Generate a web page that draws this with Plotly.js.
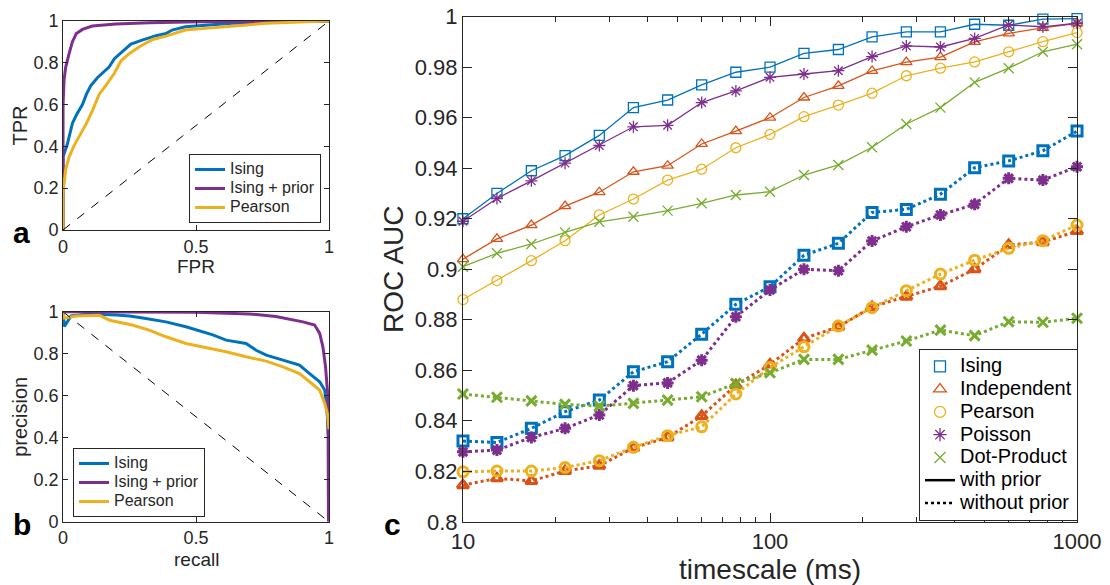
<!DOCTYPE html>
<html>
<head>
<meta charset="utf-8">
<script src="https://cdn.plot.ly/plotly-3.0.1.min.js"></script>
<style>html,body{margin:0;padding:0;background:#fff;}#chart{width:1110px;height:585px;}</style>
</head>
<body>
<div id="chart"></div>
<script>
// ---------- Panel c: ROC AUC vs timescale ----------
const timescale = [10, 12.9, 16.7, 21.5, 27.8, 35.9, 46.4, 59.9, 77.4, 100, 129, 167, 215, 278, 359, 464, 599, 774, 1000];

const isingPrior   = [0.920,0.930,0.939,0.945,0.953,0.964,0.967,0.973,0.978,0.980,0.9855,0.987,0.992,0.994,0.994,0.997,0.9966,0.999,0.9992];
const indepPrior   = [0.904,0.912,0.9175,0.925,0.9305,0.9386,0.941,0.9496,0.9547,0.960,0.968,0.9726,0.9785,0.982,0.984,0.990,0.9934,0.9956,0.9974];
const pearsonPrior = [0.888,0.8955,0.9034,0.9113,0.9215,0.9278,0.9353,0.9396,0.9481,0.9534,0.9604,0.965,0.9697,0.9766,0.9796,0.9821,0.9861,0.9901,0.9937];
const poissonPrior = [0.919,0.928,0.935,0.942,0.949,0.9564,0.957,0.966,0.9706,0.976,0.9773,0.9786,0.9842,0.9884,0.988,0.9914,0.9967,0.996,0.9974];
const dotPrior     = [0.901,0.9063,0.910,0.9146,0.9188,0.9208,0.9232,0.9261,0.9294,0.9307,0.9373,0.9413,0.9483,0.9575,0.964,0.974,0.9796,0.9861,0.9891];

const isingNo   = [0.832,0.8314,0.837,0.8436,0.8482,0.8594,0.8634,0.8743,0.8861,0.8931,0.9055,0.9103,0.9225,0.9237,0.9297,0.9402,0.9429,0.9469,0.9547];
const indepNo   = [0.8145,0.8172,0.8162,0.8201,0.8222,0.8293,0.8334,0.8419,0.8541,0.8623,0.8726,0.8772,0.8851,0.8891,0.8933,0.9000,0.9096,0.9107,0.9151];
const pearsonNo = [0.8198,0.8201,0.8201,0.8215,0.8242,0.8295,0.8341,0.8376,0.8506,0.8611,0.8693,0.8775,0.8848,0.8915,0.8981,0.9036,0.9083,0.9113,0.9175];
const poissonNo = [0.8277,0.8284,0.8334,0.837,0.8423,0.8539,0.855,0.864,0.8812,0.8918,0.900,0.8994,0.9112,0.9168,0.9215,0.9257,0.936,0.9353,0.9406];
const dotNo     = [0.8506,0.8493,0.8479,0.8465,0.8458,0.8469,0.8482,0.8495,0.8548,0.859,0.8643,0.8643,0.868,0.8716,0.8759,0.8737,0.8792,0.879,0.8806];

const modelNames = ['Ising', 'Independent', 'Pearson', 'Poisson', 'Dot-Product'];
const priorNames = ['with prior', 'without prior'];
const aucTicks = [0.8,0.82,0.84,0.86,0.88,0.9,0.92,0.94,0.96,0.98,1];
const aucTickText = ['0.8','0.82','0.84','0.86','0.88','0.9','0.92','0.94','0.96','0.98','1'];
const timeTicks = [10, 100, 1000];
const timeTickText = ['10', '100', '1000'];
const timeMinor = [20,30,40,50,60,70,80,90,200,300,400,500,600,700,800,900];

// ---------- Panel a: ROC curves ----------
const rocFprIsing = [0,0,0.016,0.035,0.05,0.073,0.088,0.104,0.13,0.155,0.173,0.193,0.218,0.255,0.3,0.35,0.387,0.41,0.46,0.535,0.636,0.764,1];
const rocTprIsing = [0,0.35,0.41,0.51,0.55,0.6,0.65,0.69,0.73,0.76,0.78,0.82,0.85,0.89,0.91,0.93,0.94,0.957,0.973,0.98,0.99,0.995,1];
const rocFprPrior = [0,0,0.004,0.01,0.023,0.035,0.05,0.073,0.11,0.198,0.324,0.513,1];
const rocTprPrior = [0,0.6,0.72,0.78,0.845,0.9,0.94,0.96,0.976,0.986,0.992,0.997,1];
const rocFprPearson = [0,0,0.01,0.023,0.04,0.067,0.088,0.11,0.136,0.16,0.193,0.218,0.25,0.287,0.337,0.387,0.46,0.535,0.636,0.764,0.889,1];
const rocTprPearson = [0,0.18,0.29,0.35,0.4,0.46,0.51,0.57,0.65,0.69,0.75,0.81,0.845,0.877,0.912,0.928,0.957,0.965,0.976,0.989,0.995,1];

// ---------- Panel b: precision-recall curves ----------
const prRecallIsing = [0,0.005,0.03,0.1,0.2,0.25,0.3,0.387,0.462,0.513,0.563,0.613,0.688,0.726,0.764,0.827,0.889,0.927,0.965,0.984,0.994,0.997];
const prPrecIsing   = [1,0.93,0.98,0.99,0.985,0.98,0.97,0.952,0.929,0.91,0.89,0.865,0.849,0.817,0.794,0.77,0.746,0.706,0.667,0.627,0.5,0.42];
const prRecallPrior = [0,0.3,0.5,0.7,0.8,0.902,0.946,0.965,0.977,0.987,0.996,0.998];
const prPrecPrior   = [1,1,0.998,0.99,0.978,0.952,0.937,0.897,0.833,0.738,0.595,0];
const prRecallPearson = [0,0.005,0.05,0.136,0.175,0.26,0.324,0.387,0.462,0.538,0.613,0.688,0.764,0.827,0.889,0.927,0.965,0.984,0.994,1];
const prPrecPearson   = [1,0.97,0.98,0.984,0.96,0.937,0.913,0.881,0.849,0.83,0.81,0.786,0.765,0.738,0.706,0.667,0.627,0.563,0.516,0.44];

const rocTicks = [0,0.2,0.4,0.6,0.8,1];
const rocTickText = ['0','0.2','0.4','0.6','0.8','1'];
const unitTicks = [0,0.5,1];
const unitTickText = ['0','0.5','1'];
const curveNames = ['Ising', 'Ising + prior', 'Pearson'];

// ---------- styling ----------
const C = {blue:'#0072BD', red:'#D95319', yellow:'#EDB120', purple:'#7E2F8E', green:'#77AC30'};
const txt = '#262626';
const FONT = 'Liberation Sans, Arial, Helvetica, sans-serif';
const big = (s, px) => '<span style="font-size:' + px + 'px">' + s + '</span>';

const traces = [];

// panel a
[[rocFprIsing, rocTprIsing, C.blue, curveNames[0]],
 [rocFprPrior, rocTprPrior, C.purple, curveNames[1]],
 [rocFprPearson, rocTprPearson, C.yellow, curveNames[2]]].forEach(([x,y,c,n]) => {
  traces.push({x, y, type:'scatter', mode:'lines', name:big(n,16), line:{color:c, width:3}, xaxis:'x', yaxis:'y', legend:'legend', cliponaxis:false});
});
traces.push({x:[0,1], y:[0,1], type:'scatter', mode:'lines', line:{color:'#000', width:1, dash:'dash'}, xaxis:'x', yaxis:'y', showlegend:false});

// panel b
[[prRecallIsing, prPrecIsing, C.blue, curveNames[0]],
 [prRecallPrior, prPrecPrior, C.purple, curveNames[1]],
 [prRecallPearson, prPrecPearson, C.yellow, curveNames[2]]].forEach(([x,y,c,n]) => {
  traces.push({x, y, type:'scatter', mode:'lines', name:big(n,16), line:{color:c, width:3}, xaxis:'x2', yaxis:'y2', legend:'legend2', cliponaxis:false});
});
traces.push({x:[0,1], y:[1,0], type:'scatter', mode:'lines', line:{color:'#000', width:1, dash:'dash'}, xaxis:'x2', yaxis:'y2', showlegend:false});

// panel c
const symbols = ['square-open','triangle-up-open','circle-open','asterisk-open','x-thin-open'];
const colors = [C.blue, C.red, C.yellow, C.purple, C.green];
const priorSets = [isingPrior, indepPrior, pearsonPrior, poissonPrior, dotPrior];
const noSets = [isingNo, indepNo, pearsonNo, poissonNo, dotNo];

noSets.forEach((ys, i) => {
  traces.push({x: timescale, y: ys, type:'scatter', mode:'lines+markers', showlegend:false,
    line:{color:colors[i], width:3, dash:'dot'},
    marker:{symbol:symbols[i], size:10, color:colors[i], line:{color:colors[i], width:3}},
    xaxis:'x3', yaxis:'y3', cliponaxis:false});
});
priorSets.forEach((ys, i) => {
  traces.push({x: timescale, y: ys, type:'scatter', mode:'lines+markers', showlegend:false,
    line:{color:colors[i], width:1.3},
    marker:{symbol:symbols[i], size:10, color:colors[i], line:{color:colors[i], width:1.3}},
    xaxis:'x3', yaxis:'y3', cliponaxis:false});
});
// legend entries for panel c
modelNames.forEach((n, i) => {
  traces.push({x:[null], y:[null], type:'scatter', mode:'markers', name:big(n,20),
    marker:{symbol:symbols[i], size:11, color:colors[i], line:{color:colors[i], width:1.3}},
    xaxis:'x3', yaxis:'y3', legend:'legend3'});
});
traces.push({x:[null], y:[null], type:'scatter', mode:'lines', name:big(priorNames[0],20), line:{color:'#000', width:2.5}, xaxis:'x3', yaxis:'y3', legend:'legend3'});
traces.push({x:[null], y:[null], type:'scatter', mode:'lines', name:big(priorNames[1],20), line:{color:'#000', width:2.5, dash:'dot'}, xaxis:'x3', yaxis:'y3', legend:'legend3'});

function axisBase(extra) {
  return Object.assign({
    showline:true, mirror:'ticks', linecolor:txt, linewidth:1, ticks:'inside', ticklen:5, tickcolor:txt,
    showgrid:false, zeroline:false, tickfont:{family:FONT, size:18, color:txt}, automargin:false,
    fixedrange:true
  }, extra);
}

const layout = {
  width:1110, height:585,
  margin:{l:0, r:0, t:0, b:0},
  paper_bgcolor:'#fff', plot_bgcolor:'#fff',
  font:{family:FONT, color:txt},
  showlegend:true,
  xaxis: axisBase({domain:[0.0568,0.2964], anchor:'y', range:[0,1], tickmode:'array', tickvals:unitTicks, ticktext:unitTickText}),
  yaxis: axisBase({domain:[0.607,0.964], anchor:'x', range:[0,1], tickmode:'array', tickvals:rocTicks, ticktext:rocTickText,
    title:{text:'TPR', font:{family:FONT, size:20, color:txt}, standoff:0}}),
  xaxis2: axisBase({domain:[0.0568,0.2964], anchor:'y2', range:[0,1], tickmode:'array', tickvals:unitTicks, ticktext:unitTickText}),
  yaxis2: axisBase({domain:[0.108,0.467], anchor:'x2', range:[0,1], tickmode:'array', tickvals:rocTicks, ticktext:rocTickText,
    title:{text:'precision', font:{family:FONT, size:20, color:txt}, standoff:0}}),
  xaxis3: axisBase({domain:[0.4171,0.9703], anchor:'y3', type:'log', range:[1,3], tickmode:'array', tickvals:timeTicks, ticktext:timeTickText,
    ticklen:9, tickfont:{family:FONT, size:22, color:txt},
    minor:{tickmode:'array', tickvals:timeMinor, ticks:'inside', ticklen:5, tickcolor:txt, showgrid:false},
    title:{text:'timescale (ms)', font:{family:FONT, size:28, color:txt}, standoff:2}}),
  yaxis3: axisBase({domain:[0.108,0.9715], anchor:'x3', range:[0.8,1], tickmode:'array', tickvals:aucTicks, ticktext:aucTickText,
    ticklen:9, tickfont:{family:FONT, size:22, color:txt},
    title:{text:'ROC AUC', font:{family:FONT, size:28, color:txt}, standoff:2}}),
  legend: {x:321/1110, y:1-223/585, xanchor:'right', yanchor:'bottom', bgcolor:'#fff', bordercolor:txt, borderwidth:1,
    font:{family:FONT, size:12, color:txt}, tracegroupgap:0, itemwidth:30},
  legend2: {x:73/1110, y:1-517/585, xanchor:'left', yanchor:'bottom', bgcolor:'#fff', bordercolor:txt, borderwidth:1,
    font:{family:FONT, size:12, color:txt}, tracegroupgap:0, itemwidth:30},
  legend3: {x:1078/1110, y:1-521/585, xanchor:'right', yanchor:'bottom', bgcolor:'#fff', bordercolor:txt, borderwidth:1,
    font:{family:FONT, size:15.2, color:'#000'}, tracegroupgap:0, itemwidth:30},
  annotations: [
    {text:'FPR', xref:'paper', yref:'paper', x:196/1110, y:1-267/585, xanchor:'center', yanchor:'middle', showarrow:false, font:{family:FONT, size:19, color:txt}},
    {text:'recall', xref:'paper', yref:'paper', x:196/1110, y:1-559/585, xanchor:'center', yanchor:'middle', showarrow:false, font:{family:FONT, size:19, color:txt}},
    {text:'<b>a</b>', xref:'paper', yref:'paper', x:21/1110, y:1-233/585, xanchor:'center', yanchor:'middle', showarrow:false, font:{family:FONT, size:30, color:'#000'}},
    {text:'<b>b</b>', xref:'paper', yref:'paper', x:22/1110, y:1-524/585, xanchor:'center', yanchor:'middle', showarrow:false, font:{family:FONT, size:30, color:'#000'}},
    {text:'<b>c</b>', xref:'paper', yref:'paper', x:392/1110, y:1-524/585, xanchor:'center', yanchor:'middle', showarrow:false, font:{family:FONT, size:30, color:'#000'}}
  ]
};

Plotly.newPlot('chart', traces, layout, {displayModeBar:false, staticPlot:true});
</script>
</body>
</html>
